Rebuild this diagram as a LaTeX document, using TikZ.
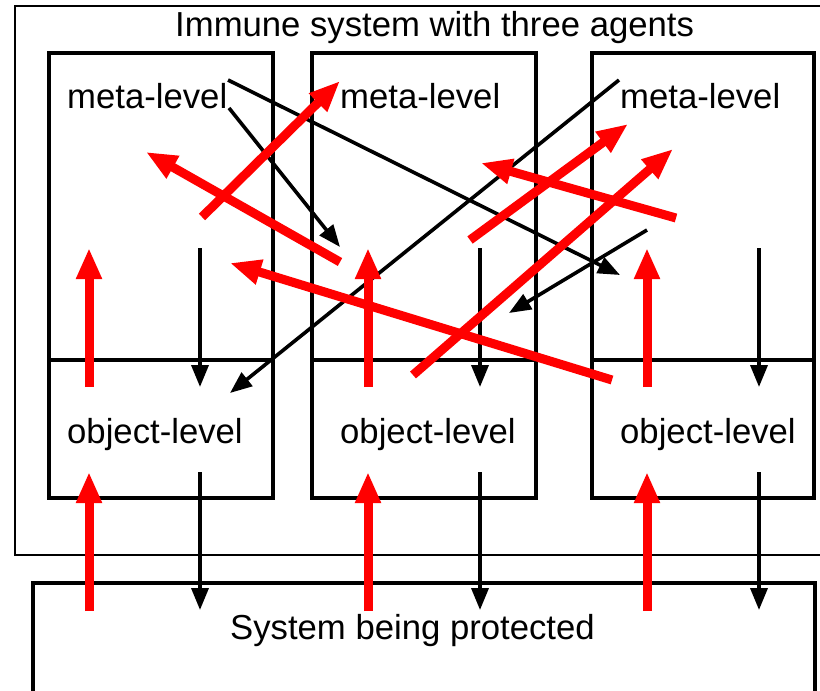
\documentclass[tikz,border=0pt]{standalone}
\usepackage{fontspec}
\setmainfont{Liberation Sans}
\usetikzlibrary{arrows.meta}
\begin{document}
\begin{tikzpicture}[x=1pt,y=-1pt,
  frame/.style={draw=black,line width=2.5pt},
  agent/.style={draw=black,line width=4.5pt,inner sep=0pt,outer sep=0pt},
  basebox/.style={draw=black,line width=4pt},
  txt/.style={anchor=base west,inner sep=0pt,font=\fontsize{34.7}{40}\selectfont},
  redarrow/.style={draw=red,line width=9pt,-{Triangle[length=31pt,width=24pt]}},
  blackarrow/.style={draw=black,line width=3.6pt,-{Triangle[length=22pt,width=17pt]}}]
\useasboundingbox (0,0) rectangle (820,691);
\clip (0,0) rectangle (820,691);

% immune system frame (open to the right)
\draw[frame] (830,6) -- (15,6) -- (15,555) -- (830,555);
\node[txt] (title) at (175,36) {Immune system with three agents};

% protected system (open at the bottom)
\draw[basebox] (33,700) -- (33,583) -- (815,583) -- (815,700);
\node[txt] (sys) at (230,639) {System being protected};

% three agents, each split into meta- and object-level
\foreach \n/\l/\r/\tx in {A/49/273/67, B/312/536/340, C/592/814/620}{
  \node[agent,minimum width={\r-\l},minimum height=445pt] (agent\n) at ({(\l+\r)/2},275.5) {};
  \draw[agent] (\l,360) -- (\r,360);
  \node[txt] (meta\n) at (\tx,108) {meta-level};
  \node[txt] (obj\n) at (\tx,443) {object-level};
}

% downward control arrows
\foreach \n/\x in {A/200, B/480, C/759}{
  \coordinate (dm\n) at (\x,248);
  \coordinate (do\n) at (\x,387);
  \coordinate (ds\n) at (\x,472);
  \coordinate (dp\n) at (\x,610);
  \draw[blackarrow] (dm\n) -- (do\n);
  \draw[blackarrow] (ds\n) -- (dp\n);
}

% cross-agent control arrows
\coordinate (k1s) at (228,80);  \coordinate (k1e) at (620,275);
\coordinate (k2s) at (229,108); \coordinate (k2e) at (340,247);
\coordinate (k3s) at (619,80);  \coordinate (k3e) at (230,393);
\coordinate (k4s) at (647,230); \coordinate (k4e) at (509,313);
\foreach \k in {1,2,3,4}{\draw[blackarrow] (k\k s) -- (k\k e);}

% upward monitoring arrows
\foreach \n/\x in {A/89, B/368, C/647}{
  \coordinate (uo\n) at (\x,387);
  \coordinate (um\n) at (\x,248);
  \coordinate (up\n) at (\x,611);
  \coordinate (us\n) at (\x,472);
  \draw[redarrow] (uo\n) -- (um\n);
  \draw[redarrow] (up\n) -- (us\n);
}

% cross-agent monitoring arrows
\coordinate (m1s) at (202,217); \coordinate (m1e) at (340,81);
\coordinate (m2s) at (340,262); \coordinate (m2e) at (146,152);
\coordinate (m3s) at (612,380); \coordinate (m3e) at (230,263);
\coordinate (m4s) at (470,240); \coordinate (m4e) at (628,124);
\coordinate (m5s) at (413,375); \coordinate (m5e) at (673,149);
\coordinate (m6s) at (676,218); \coordinate (m6e) at (481,163);
\foreach \k in {1,...,6}{\draw[redarrow] (m\k s) -- (m\k e);}
\end{tikzpicture}
\end{document}
